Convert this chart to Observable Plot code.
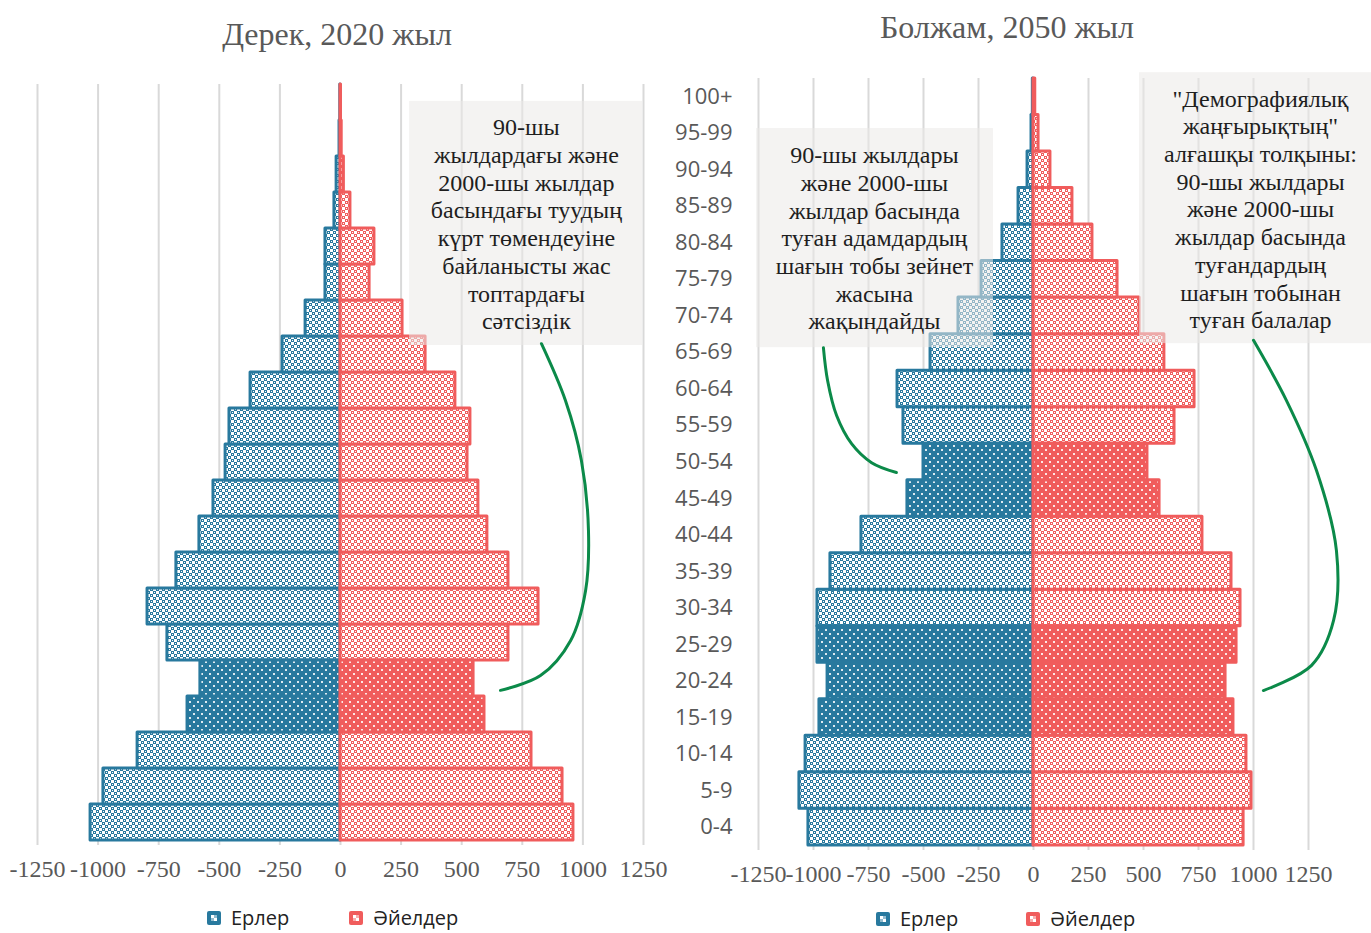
<!DOCTYPE html>
<html>
<head>
<meta charset="utf-8">
<script src="https://cdn.jsdelivr.net/npm/d3@7"></script>
<script src="https://cdn.jsdelivr.net/npm/@observablehq/plot@0.6"></script>
<style>
  body { margin: 0; background: #fff; }
  #wrap { position: relative; width: 1371px; height: 933px; overflow: hidden; background: #fff; }
  .panel { position: absolute; top: 0; }
  .title { position: absolute; font-family: "Liberation Serif", serif; font-size: 32px; line-height: 1; color: #595959; transform: translateX(-50%); white-space: nowrap; z-index: 2; }
  .legend { position: absolute; display: flex; align-items: center; font-family: "Open Sans", sans-serif; font-size: 20px; line-height: 1; color: #222; z-index: 2; white-space: nowrap; }
  .legend svg { margin-right: 10px; }
</style>
</head>
<body>
<svg width="0" height="0" style="position:absolute">
  <defs>
    <pattern id="blueLight" width="6" height="6" patternUnits="userSpaceOnUse">
      <rect width="6" height="6" fill="#ffffff"/>
      <rect width="3" height="3" fill="#28799e"/>
      <rect x="3" y="3" width="3" height="3" fill="#28799e"/>
      <rect x="1" y="1" width="1" height="1" fill="#ffffff"/>
      <rect x="4" y="4" width="1" height="1" fill="#ffffff"/>
    </pattern>
    <pattern id="redLight" width="6" height="6" patternUnits="userSpaceOnUse">
      <rect width="6" height="6" fill="#ffffff"/>
      <rect width="3" height="3" fill="#f05c5c"/>
      <rect x="3" y="3" width="3" height="3" fill="#f05c5c"/>
      <rect x="1" y="1" width="1" height="1" fill="#ffffff"/>
      <rect x="4" y="4" width="1" height="1" fill="#ffffff"/>
    </pattern>
    <pattern id="blueDense" width="8" height="8" patternUnits="userSpaceOnUse">
      <rect width="8" height="8" fill="#28799e"/>
      <rect x="1" y="1" width="2" height="2" fill="#ffffff" fill-opacity="0.85"/>
      <rect x="5" y="5" width="2" height="2" fill="#ffffff" fill-opacity="0.85"/>
    </pattern>
    <pattern id="redDense" width="8" height="8" patternUnits="userSpaceOnUse">
      <rect width="8" height="8" fill="#f05c5c"/>
      <rect x="1" y="1" width="2" height="2" fill="#ffffff" fill-opacity="0.85"/>
      <rect x="5" y="5" width="2" height="2" fill="#ffffff" fill-opacity="0.85"/>
    </pattern>
  </defs>
</svg>
<div id="wrap">
  <div id="left" class="panel" style="left:0px"></div>
  <div id="right" class="panel" style="left:660px"></div>
  <div class="title" style="left:337px;top:18px">Дерек, 2020 жыл</div>
  <div class="title" style="left:1007px;top:11px">Болжам, 2050 жыл</div>
  <div class="legend" id="legLeft" style="left:207px;top:908px"></div>
  <div class="legend" id="legRight" style="left:876px;top:909px"></div>
</div>
<script>
// ---------- data ----------
const ageGroups = ["0-4","5-9","10-14","15-19","20-24","25-29","30-34","35-39","40-44","45-49","50-54","55-59","60-64","65-69","70-74","75-79","80-84","85-89","90-94","95-99","100+"];
const men2020   = [1031, 978, 837, 631, 578, 714, 796, 677, 582, 524, 474, 458, 371, 239, 144, 62, 62, 25, 16, 4, 1];
const women2020 = [ 961, 916, 788, 594, 549, 693, 817, 693, 606, 569, 524, 536, 474, 351, 256, 120, 140, 41, 14, 5, 2];
const men2050   = [1023, 1064, 1036, 973, 936, 982, 982, 923, 782, 573, 500, 591, 618, 468, 341, 236, 141, 68, 27, 9, 3];
const women2050 = [ 955, 991, 968, 909, 873, 923, 941, 900, 768, 573, 518, 641, 732, 595, 482, 382, 268, 177, 77, 23, 8];
const dense2020 = ["15-19","20-24"];
const dense2050 = ["15-19","20-24","25-29","45-49","50-54"];
const xTicks = [-1250,-1000,-750,-500,-250,0,250,500,750,1000,1250];
const seriesNames = ["Ерлер","Әйелдер"];

// annotation boxes (data units: x = thousands, y = age-group index)
const noteLeft = [{x1: 285, x2: 1246, y1: 13.25, y2: 20.03, tx: 767, ty: 16.64,
  text: "90-шы\nжылдардағы және\n2000-шы жылдар\nбасындағы туудың\nкүрт төмендеуіне\nбайланысты жас\nтоптардағы\nсәтсіздік"}];
const noteMid = [{x1: -1259, x2: -182, y1: 13.13, y2: 19.13, tx: -723, ty: 16.15,
  text: "90-шы жылдары\nжәне 2000-шы\nжылдар басында\nтуған адамдардың\nшағын тобы зейнет\nжасына\nжақындайды"}];
const noteRight = [{x1: 482, x2: 1541, y1: 13.24, y2: 20.66, tx: 1032, ty: 16.94,
  text: "\"Демографиялық\nжаңғырықтың\"\nалғашқы толқыны:\n90-шы жылдары\nжәне 2000-шы\nжылдар басында\nтуғандардың\nшағын тобынан\nтуған балалар"}];
const curveLeftX  = [829, 928, 994, 1023, 1011, 949, 825, 660];
const curveLeftY  = [13.30, 11.72, 10.05, 8.11, 6.44, 5.05, 4.08, 3.67];
const curveMidX   = [-955, -936, -895, -827, -736, -623];
const curveMidY   = [13.13, 12.23, 11.27, 10.50, 9.98, 9.71];
const curveRightX = [1000, 1150, 1286, 1377, 1364, 1264, 1045];
const curveRightY = [13.33, 11.68, 9.77, 7.57, 5.66, 4.43, 3.74];

// ---------- styles ----------
const blue = "#28799e", red = "#f05c5c", green = "#0b8a49", gridColor = "#d9d9d9";
const serif = "Liberation Serif, serif";

function pyramid({men, women, dense, width, marginLeft, marginRight, marginTop, marginBottom, showAges, notes, curves, tickPadding}) {
  const rows = ageGroups.map((age, i) => ({age, i, men: men[i], women: women[i], dense: dense.includes(age)}));
  const bar = (sex, isDense) => Plot.rect(rows.filter(d => d.dense === isDense), {
    x1: sex === "men" ? d => -d.men : 0,
    x2: sex === "men" ? 0 : d => d.women,
    y1: d => d.i - 0.5,
    y2: d => d.i + 0.5,
    fill: sex === "men" ? (isDense ? "url(#blueDense)" : "url(#blueLight)") : (isDense ? "url(#redDense)" : "url(#redLight)"),
    stroke: sex === "men" ? blue : red,
    strokeWidth: 3,
    strokeLinejoin: "round"
  });
  const marks = [
    Plot.ruleX(xTicks, {stroke: gridColor, strokeWidth: 2}),
    bar("men", false), bar("men", true),
    bar("women", false), bar("women", true)
  ];
  for (const note of notes) {
    marks.push(Plot.rect(note, {x1: "x1", x2: "x2", y1: "y1", y2: "y2", fill: "#ebeae8", fillOpacity: 0.55}));
    marks.push(Plot.text(note, {x: "tx", y: "ty", text: "text", fontFamily: serif, fontSize: 24, lineHeight: 1.155, fill: "#1e1e1e", textAnchor: "middle", lineAnchor: "middle"}));
  }
  for (const c of curves) {
    const pts = c.x.map((x, k) => ({x, y: c.y[k]}));
    marks.push(Plot.line(pts, {x: "x", y: "y", curve: "catmull-rom", stroke: green, strokeWidth: 3}));
  }
  marks.push(Plot.axisX({ticks: xTicks, tickFormat: d => String(d), tickSize: 0, tickPadding, fontSize: 24, fontFamily: serif, fill: "#595959"}));
  if (showAges) {
    marks.push(Plot.axisY({ticks: d3.range(ageGroups.length), tickFormat: i => ageGroups[i], tickSize: 0, tickPadding: 26, fontSize: 22, fontFamily: "Open Sans, sans-serif", fill: "#595959"}));
  }
  return Plot.plot({
    width, height: 933,
    marginLeft, marginRight, marginTop, marginBottom,
    x: {domain: [-1250, 1250], axis: null},
    y: {domain: [-0.64, 20.5], axis: null},
    style: {background: "transparent", color: "#595959"},
    marks
  });
}

document.getElementById("left").append(pyramid({
  men: men2020, women: women2020, dense: dense2020,
  width: 672, marginLeft: 37, marginRight: 29, marginTop: 84, marginBottom: 88,
  showAges: false, notes: [noteLeft], tickPadding: 14,
  curves: [{x: curveLeftX, y: curveLeftY}]
}));
document.getElementById("right").append(pyramid({
  men: men2050, women: women2050, dense: dense2050,
  width: 711, marginLeft: 98, marginRight: 63, marginTop: 78, marginBottom: 83,
  showAges: true, notes: [noteMid, noteRight], tickPadding: 14,
  curves: [{x: curveMidX, y: curveMidY}, {x: curveRightX, y: curveRightY}]
}));

// ---------- legends ----------
function swatch(color) {
  return `<svg width="14" height="14"><rect width="14" height="14" rx="2" fill="${color}"/>` +
    `<rect x="4" y="4" width="3" height="3" fill="#fff"/><rect x="7" y="7" width="3" height="3" fill="#fff"/>` +
    `<rect x="7" y="4" width="3" height="3" fill="#fff" fill-opacity="0.5"/><rect x="4" y="7" width="3" height="3" fill="#fff" fill-opacity="0.5"/></svg>`;
}
for (const [id, gap] of [["legLeft", 60], ["legRight", 68]]) {
  const el = document.getElementById(id);
  el.innerHTML = `${swatch(blue)}<span>${seriesNames[0]}</span><span style="display:inline-block;width:${gap}px"></span>${swatch(red)}<span>${seriesNames[1]}</span>`;
}
</script>
</body>
</html>
